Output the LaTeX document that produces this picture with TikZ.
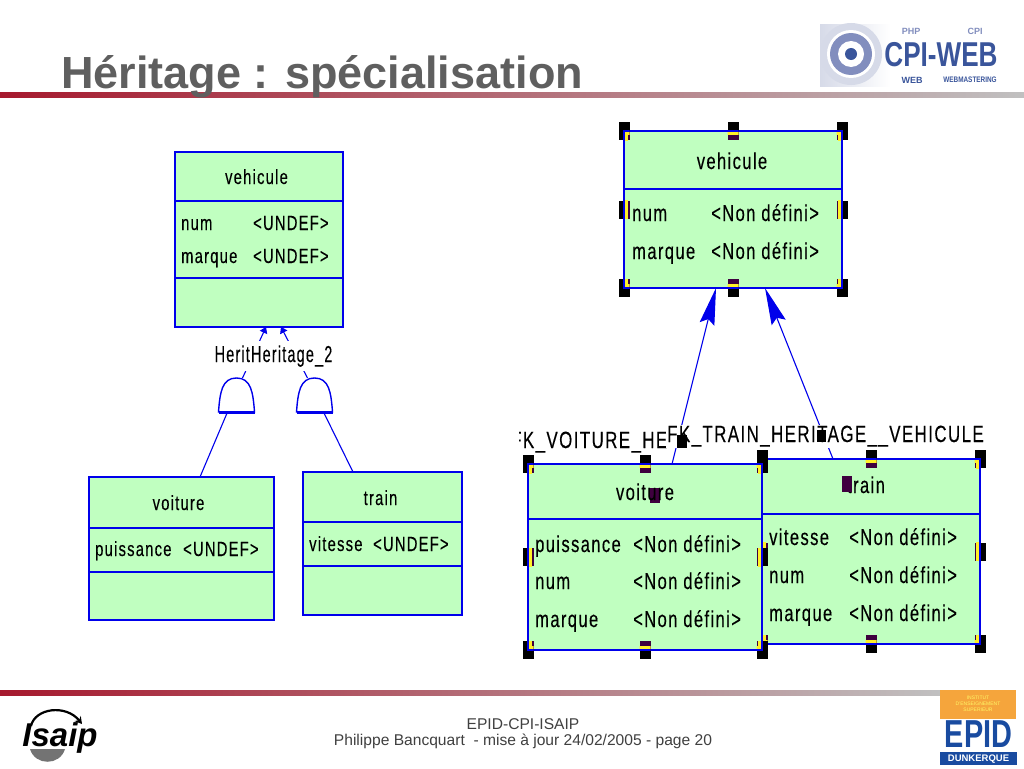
\documentclass[tikz,border=0pt]{standalone}
\usepackage{fontspec}
\setmainfont{Liberation Sans}
\newfontfamily\umlfont[FakeStretch=0.72,LetterSpace=6,FakeBold=0.25]{Liberation Sans}
\usetikzlibrary{arrows.meta}
\definecolor{umlblue}{RGB}{0,0,235}
\definecolor{umlgreen}{RGB}{192,255,192}
\definecolor{handlein}{RGB}{63,0,63}
\definecolor{handleedge}{RGB}{255,240,40}
\definecolor{rulered}{RGB}{166,25,46}
\definecolor{rulegrey}{RGB}{192,192,192}
\definecolor{titlegrey}{RGB}{95,95,95}
\definecolor{logoblue}{RGB}{58,85,155}
\definecolor{logopale}{RGB}{214,218,232}
\definecolor{logoring}{RGB}{130,142,190}
\definecolor{epidblue}{RGB}{25,75,160}
\definecolor{epidorange}{RGB}{245,165,60}
\tikzstyle{entry}=[draw=umlblue, fill=umlgreen, line width=2.5pt, inner sep=0pt, outer sep=0pt, anchor=north west]
\tikzstyle{attr}=[inner sep=0pt, anchor=base west, font=\umlfont\fontsize{20.5}{21}\selectfont]
\tikzstyle{attrbig}=[attr, font=\umlfont\fontsize{23}{24}\selectfont]
\tikzstyle{fklabel}=[fill=white, inner sep=1pt, anchor=base west, font=\umlfont\fontsize{23.5}{24}\selectfont]
\tikzstyle{link}=[draw=umlblue, line width=1.1pt]
\tikzstyle{handle}=[fill=black, draw=none, minimum width=11pt, minimum height=18pt, inner sep=0pt]
\tikzstyle{bell}=[draw=umlblue, fill=white, line width=1.4pt]
\tikzstyle{bellbox}=[draw=none, minimum width=36pt, minimum height=34pt, inner sep=0pt, outer sep=0pt]
\newcommand{\umlbox}[6]{% name, left, top, width, height, divider list
  \node (#1) [entry, minimum width=#4pt, minimum height=#5pt] at (#2,#3) {};
  \foreach \d in {#6} \draw [umlblue, line width=2.4pt] (#2,#3+\d) -- (#2+#4,#3+\d);
}
\newcommand{\handlebox}[4]{% left, top, width, height
  \foreach \hx/\hy in {0/0,.5/0,1/0,0/.5,1/.5,0/1,.5/1,1/1}
    \node [handle] at (#1+\hx*#3,#2+\hy*#4) {};
  \begin{scope}
    \clip (#1,#2) rectangle ++(#3,#4);
    \foreach \hx/\hy in {0/0,.5/0,1/0,0/.5,1/.5,0/1,.5/1,1/1}
      \fill [handlein] (#1+\hx*#3-5.5,#2+\hy*#4-9) rectangle ++(11,18);
  \end{scope}
  \foreach \hx/\hy in {0/0,.5/0,1/0,0/.5,1/.5,0/1,.5/1,1/1} {
    \begin{scope}
      \clip (#1+\hx*#3-5.5,#2+\hy*#4-9) rectangle ++(11,18);
      \draw [handleedge, line width=3pt] (#1+2.5,#2+2.5) rectangle (#1+#3-2.5,#2+#4-2.5);
      \draw [umlblue, line width=2.5pt] (#1,#2) rectangle (#1+#3,#2+#4);
    \end{scope}
  }
}
\begin{document}
\begin{tikzpicture}[x=1pt,y=-1pt]
\useasboundingbox (0,0) rectangle (1024,768);
\fill [white] (0,0) rectangle (1024,768);

% rules and title
\fill [left color=rulered, right color=rulegrey] (0,92) rectangle (1024,97);
\fill [left color=rulered, right color=rulegrey] (0,690) rectangle (940,695);
\node (title) [anchor=base west, inner sep=0pt, text=titlegrey, font=\bfseries\fontsize{45}{46}\selectfont] at (61,88) {Héritage : spécialisation};

% left: conceptual model
\umlbox{lvehicule}{175}{152}{168}{175}{49,126}
\umlbox{lvoiture}{89}{477}{185}{143}{51,95}
\umlbox{ltrain}{303}{472}{159}{143}{50,94}
\node (bella) [bellbox] at (236.5,395) {};
\node (bellb) [bellbox] at (314.5,395) {};
\draw [link, -{Stealth[length=6pt,width=8pt,inset=0pt]}] ([xshift=6]bella.north) -- ([xshift=7]lvehicule.south);
\draw [link, -{Stealth[length=6pt,width=8pt,inset=0pt]}] ([xshift=-7]bellb.north) -- ([xshift=22]lvehicule.south);
\node (lherit) [fill=white, inner xsep=1pt, inner ysep=4pt, anchor=base, xscale=0.87, font=\umlfont\fontsize{23}{23}\selectfont] at (273.5,362) {HeritHeritage\_2};
\draw [bell] (bella.south west) .. controls (220,392) and (222,378) .. (bella.north) .. controls (251,378) and (253,392) .. (bella.south east) -- cycle;
\draw [bell] (bellb.south west) .. controls (298,392) and (300,378) .. (bellb.north) .. controls (329,378) and (331,392) .. (bellb.south east) -- cycle;
\draw [umlblue, line width=3pt] (bella.south west) -- (bella.south east);
\draw [umlblue, line width=3pt] (bellb.south west) -- (bellb.south east);
\draw [link] ([xshift=-9]bella.south) -- ([xshift=18.5]lvoiture.north);
\draw [link] ([xshift=9]bellb.south) -- ([xshift=-29.5]ltrain.north);

\node (n1) [attr, anchor=base] at (256.5,184) {vehicule};
\node (n2) [attr, anchor=base] at (178.5,510) {voiture};
\node (n3) [attr, anchor=base] at (380.5,505) {train};
\node (n4) [attr] at (181,230) {num};
\node (n5) [attr] at (253,230) {<UNDEF>};
\node (n6) [attr] at (181,263) {marque};
\node (n7) [attr] at (253,263) {<UNDEF>};
\node (n8) [attr] at (95,556) {puissance};
\node (n9) [attr] at (183,556) {<UNDEF>};
\node (n10) [attr] at (309,551) {vitesse};
\node (n11) [attr] at (373,551) {<UNDEF>};

% right: physical model
\umlbox{rvehicule}{624}{131}{218}{157}{58}
\umlbox{rtrain}{762}{459}{218}{185}{55}
\handlebox{762}{459}{218}{185}
\umlbox{rvoiture}{528}{464}{234}{186}{55}
\draw [link, -{Stealth[length=37pt,width=15pt,inset=5pt]}] ([xshift=27]rvoiture.north) -- ([xshift=-17]rvehicule.south);
\draw [link, -{Stealth[length=37pt,width=15pt,inset=5pt]}] ([xshift=-38]rtrain.north) -- ([xshift=32]rvehicule.south);
\node (fkvoiture) [fklabel] at (510,448) {FK\_VOITURE\_HE};
\fill [white] (505,425) rectangle (519,455);
\node (fktrain) [fklabel] at (666,442) {FK\_TRAIN\_HERITAGE\_\_VEHICULE};
\handlebox{624}{131}{218}{157}
\handlebox{528}{464}{234}{186}

\node (m1) [attrbig, anchor=base] at (732,169) {vehicule};
\node (m2) [attrbig] at (632,221) {num};
\node (m3) [attrbig] at (711,221) {<Non défini>};
\node (m4) [attrbig] at (632,259) {marque};
\node (m5) [attrbig] at (711,259) {<Non défini>};
\node (h4) [handle, fill=handlein, minimum width=10pt, minimum height=15pt] at (655,495) {};
\node (m6) [attrbig, anchor=base] at (645,500) {voiture};
\node (m7) [attrbig] at (535,552) {puissance};
\node (m8) [attrbig] at (633,552) {<Non défini>};
\node (m9) [attrbig] at (535,589) {num};
\node (m10) [attrbig] at (633,589) {<Non défini>};
\node (m11) [attrbig] at (535,627) {marque};
\node (m12) [attrbig] at (633,627) {<Non défini>};
\node (m13) [attrbig, anchor=base] at (866,493) {train};
\node (m14) [attrbig] at (769,545) {vitesse};
\node (m15) [attrbig] at (849,545) {<Non défini>};
\node (m16) [attrbig] at (769,583) {num};
\node (m17) [attrbig] at (849,583) {<Non défini>};
\node (m18) [attrbig] at (769,621) {marque};
\node (m19) [attrbig] at (849,621) {<Non défini>};
% link handles
\node (h1) [handle, minimum width=10pt, minimum height=13pt] at (682,441) {};
\node (h2) [handle, minimum width=9pt, minimum height=12pt] at (821,436) {};
\node (h3) [handle, fill=handlein, minimum width=10pt, minimum height=16pt] at (847,484) {};

% footer
\node (foot1) [inner sep=0pt, text=black!75, font=\fontsize{15.6}{16}\selectfont] at (523,724) {EPID-CPI-ISAIP};
\node (foot2) [inner sep=0pt, text=black!75, font=\fontsize{15.6}{16}\selectfont] at (523,741) {Philippe Bancquart\ \ - mise à jour 24/02/2005 - page 20};

% cpi-web logo
\fill [left color=logopale, right color=white] (820,25) rectangle (890,86);
\foreach \r/\c in {31/logopale,24/white,21/logoring,13/white,6/logoblue}
  \fill [\c] (851,54) circle [radius=\r];
\node (cpiweb) [inner sep=0pt, text=logoblue, font=\bfseries\fontsize{30}{30}\selectfont, xscale=0.87, yscale=1.15] at (941,55) {CPI-WEB};
\node (cpiphp) [inner sep=0pt, text=logoring, font=\bfseries\fontsize{9}{9}\selectfont] at (911,31) {PHP};
\node (cpicpi) [inner sep=0pt, text=logoring, font=\bfseries\fontsize{9}{9}\selectfont] at (975,31) {CPI};
\node (cpiweb2) [inner sep=0pt, text=logoblue, font=\bfseries\fontsize{9}{9}\selectfont] at (912,80) {WEB};
\node (cpimaster) [inner sep=0pt, text=logoblue, font=\bfseries\fontsize{8}{8}\selectfont, xscale=0.8] at (970,80) {WEBMASTERING};

% isaip logo
\fill [black!55] (30,749) -- (65,749) .. controls (60,766) and (35,766) .. (30,749) -- cycle;
\node (isaip) [inner sep=0pt, font=\bfseries\itshape\fontsize{33}{34}\selectfont] at (60,738) {Isaip};
\draw [line width=2.2pt, -{Stealth[length=7pt,width=8pt]}] (31,726) .. controls (35,708) and (66,704) .. (82,724);

% epid logo
\fill [epidorange] (940,690) rectangle (1016,719);
\node (epidtop) [inner sep=0pt, text=yellow!60, align=center, font=\fontsize{5}{6}\selectfont] at (978,704) {INSTITUT\\D'ENSEIGNEMENT\\SUPERIEUR};
\node (epid) [inner sep=0pt, text=epidblue, font=\bfseries\fontsize{39}{39}\selectfont, xscale=0.74] at (978.5,734) {EPID};
\fill [epidblue] (940,752) rectangle (1017,765);
\node (dunk) [inner sep=0pt, text=white, font=\bfseries\fontsize{9.5}{10}\selectfont] at (978.5,759) {DUNKERQUE};
\end{tikzpicture}
\end{document}
